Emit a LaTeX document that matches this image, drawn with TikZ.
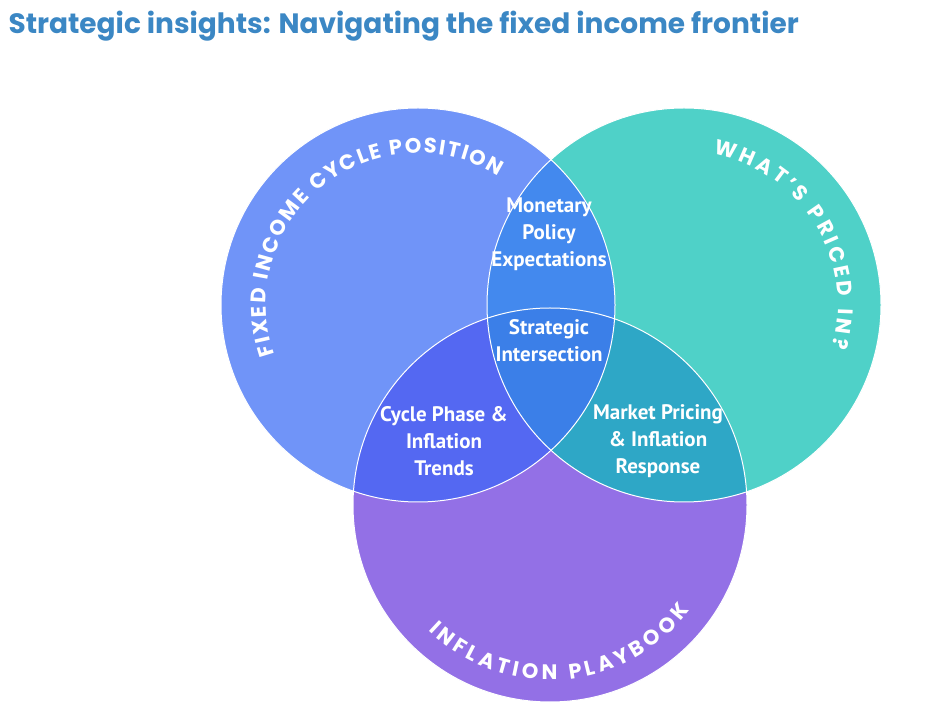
\documentclass[tikz,border=0pt]{standalone}
\usepackage{fontspec}
\setmainfont{PT Sans}
\newfontfamily\titlefont{Poppins}
\newfontfamily\curvefont{Poppins}
\usepackage{xcolor}
\usetikzlibrary{positioning, decorations.text}

\definecolor{cycleblue}{HTML}{7094F8}
\definecolor{pricedteal}{HTML}{4FD1C8}
\definecolor{playpurple}{HTML}{9370E6}
\definecolor{monblue}{HTML}{4389EE}
\definecolor{phaseblue}{HTML}{5468F2}
\definecolor{marketteal}{HTML}{2EA7C6}
\definecolor{coreblue}{HTML}{3B7FE8}
\definecolor{titleblue}{HTML}{3B87C4}

\begin{document}
\begin{tikzpicture}[
            x=1pt, y=1pt,
            lbl/.style={text=white, align=center, font=\bfseries\fontsize{21}{27}\selectfont},
            rim/.style={draw=white, line width=1pt},
            curved/.style={decorate, decoration={text along path, text align={fit to path},
                text={|\curvefont\bfseries\fontsize{21}{21}\selectfont\color{white}|#1}}}
        ]
        \useasboundingbox (0,0) rectangle (928,717);

        % Circles
        \coordinate (cyc) at (418,412);
        \coordinate (pri) at (684,412);
        \coordinate (pla) at (550,212);
        \fill[cycleblue] (cyc) circle (197);
        \fill[pricedteal] (pri) circle (197);
        \fill[playpurple] (pla) circle (197);

        % Overlaps
        \begin{scope}
            \clip (cyc) circle (197);
            \fill[monblue] (pri) circle (197);
            \fill[phaseblue] (pla) circle (197);
        \end{scope}
        \begin{scope}
            \clip (pri) circle (197);
            \fill[marketteal] (pla) circle (197);
        \end{scope}
        \begin{scope}
            \clip (cyc) circle (197);
            \clip (pri) circle (197);
            \fill[coreblue] (pla) circle (197);
        \end{scope}

        % Outlines
        \draw[rim] (cyc) circle (197);
        \draw[rim] (pri) circle (197);
        \draw[rim] (pla) circle (197);

        % Curved titles
        \path[curved={FIXED INCOME CYCLE POSITION}]
            ([shift={(199:152)}]cyc) arc[start angle=199, end angle=58, radius=152];
        \path[curved={WHAT’S PRICED IN?}]
            ([shift={(79:154)}]pri) arc[start angle=79, end angle=-16, radius=154];
        \path[curved={INFLATION PLAYBOOK}]
            ([shift={(226:175)}]pla) arc[start angle=226, end angle=323, radius=175];

        % Labels
        \node[lbl] (monetary) at (549,483) {Monetary\\Policy\\Expectations};
        \node[lbl] (core) at (549,376) {Strategic\\Intersection};
        \node[lbl] (phase) at (444,276) {Cycle Phase \&\\Inflation\\Trends};
        \node[lbl] (market) at (658,276) {Market Pricing\\\& Inflation\\Response};

        % Heading
        \node[anchor=west, text=titleblue, font=\titlefont\bfseries\fontsize{28}{32}\selectfont]
            (heading) at (5,691) {Strategic insights: Navigating the fixed income frontier};

    \end{tikzpicture}
\end{document}
